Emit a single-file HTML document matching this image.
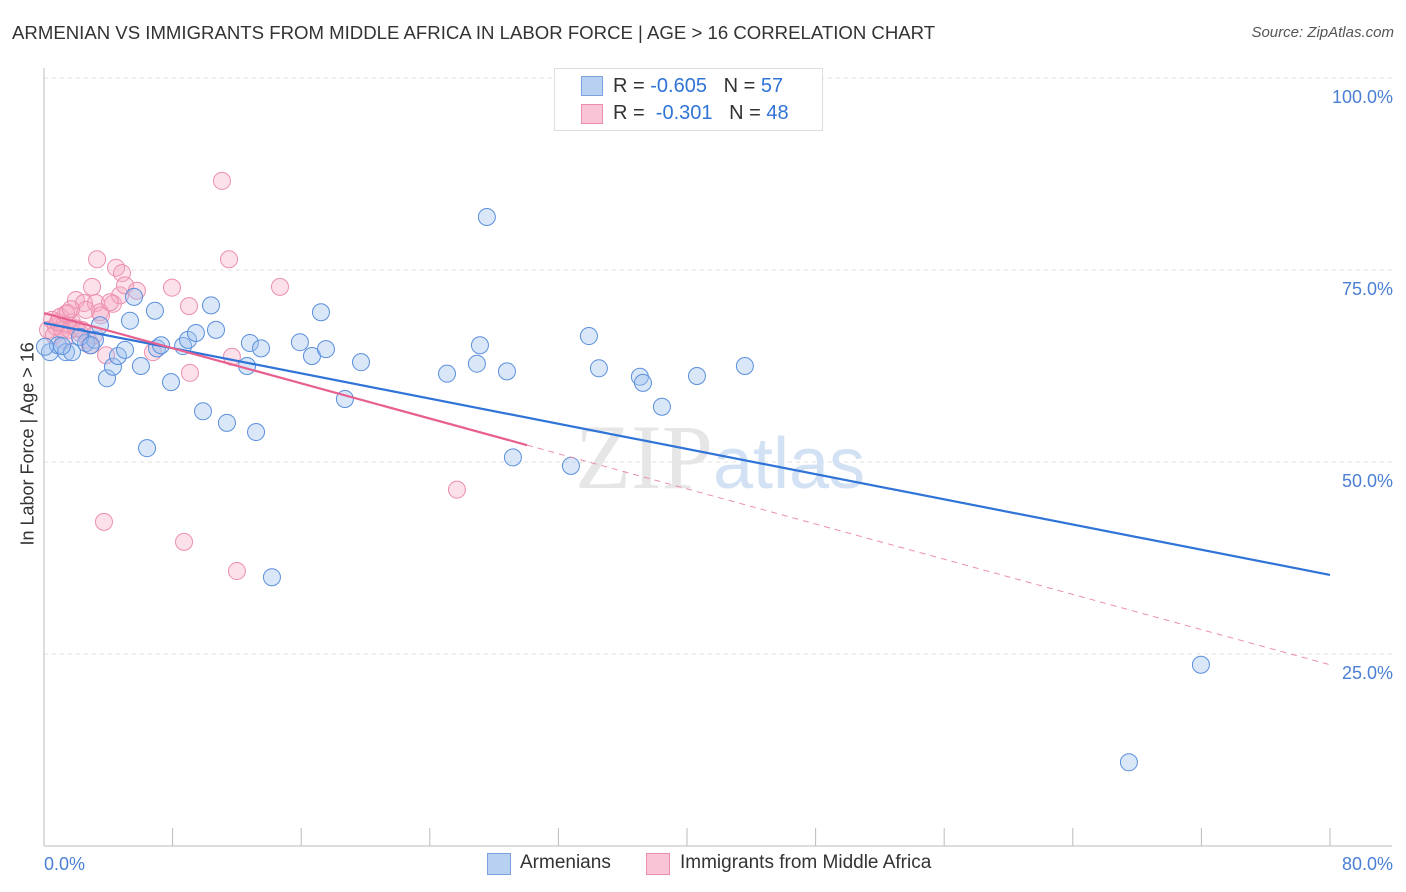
<!DOCTYPE html>
<html><head><meta charset="utf-8"><style>
body{margin:0;background:#fff;font-family:"Liberation Sans",sans-serif;}
#wrap{position:relative;width:1406px;height:892px;overflow:hidden}
.t{position:absolute;white-space:nowrap}
</style></head><body>
<div id="wrap">
<div class="t" style="left:12px;top:22px;font-size:18.6px;color:#333">ARMENIAN VS IMMIGRANTS FROM MIDDLE AFRICA IN LABOR FORCE | AGE &gt; 16 CORRELATION CHART</div>
<div class="t" style="right:12px;top:24px;font-size:15px;color:#555;font-style:italic">Source: ZipAtlas.com</div>
<svg id="svg" width="1406" height="892" style="position:absolute;left:0;top:0"></svg>
</div>
<script>
const xTicksLabels=["0.0%","80.0%"];
const yTickVals=[25,50,75,100];
const blueX=[0.37,0.87,1.37,1.74,2.61,3.17,3.48,3.92,4.29,4.6,5.04,5.35,5.6,6.03,6.41,6.9,7.03,7.28,7.9,8.65,8.96,9.45,9.89,10.39,10.7,11.38,12.63,12.81,13.19,13.5,14.18,15.92,16.67,17.23,17.54,18.72,19.72,25.07,26.93,27.12,27.55,28.8,29.17,32.78,33.9,34.52,37.07,37.26,38.44,40.62,43.6,67.49,71.97,0.06,1.12,2.24,2.92];
const blueY=[64.3,65.2,64.3,64.3,65.5,65.9,67.8,60.9,62.4,63.8,64.6,68.4,71.5,62.5,51.8,69.7,64.8,65.2,60.4,65.1,65.9,66.8,56.6,70.4,67.2,55.1,62.5,65.5,53.9,64.8,35.0,65.6,63.8,69.5,64.7,58.2,63.0,61.5,62.8,65.2,81.9,61.8,50.6,49.5,66.4,62.2,61.1,60.3,57.2,61.2,62.5,10.9,23.6,65.0,65.1,66.3,65.2];
const pinkX=[0.25,0.5,0.75,1.0,1.24,1.49,1.74,1.99,2.24,2.49,2.74,2.99,3.23,3.3,3.55,3.73,3.86,4.29,4.48,4.73,4.85,5.04,5.78,6.78,7.96,8.71,9.02,9.08,11.07,11.51,11.69,12.0,14.68,25.69,0.62,1.12,1.62,0.87,1.37,3.48,2.86,4.1,2.61,1.99,1.24,2.36,3.11,1.68];
const pinkY=[67.2,68.5,67.6,68.9,67.8,69.4,68.2,71.1,66.8,70.7,65.9,72.8,70.7,76.4,69.1,42.2,63.9,70.6,75.3,71.7,74.6,73.0,72.3,64.3,72.7,39.6,70.3,61.6,86.6,76.4,63.7,35.8,72.8,46.4,66.5,67.2,67.2,68.2,69.3,69.5,65.2,70.8,69.8,67.4,65.9,67.2,66.5,69.9];
const blueTrend=[68.1,35.3];
const pinkTrend=[69.4,23.6];
const pinkSolidEnd=30.05;

const X=v=>44+v/80*1286, Y=v=>846-v/100*768;
const svg=document.getElementById('svg'),NS="http://www.w3.org/2000/svg";
function mk(tag,a){const e=document.createElementNS(NS,tag);for(const k in a)e.setAttribute(k,a[k]);svg.appendChild(e);return e;}
yTickVals.forEach(v=>{
 const g=mk('line',{x1:44,x2:1392,y1:Y(v),y2:Y(v),stroke:'#e2e2e2','stroke-dasharray':'4,4'});
 
 
 const t=mk('text',{x:1393,y:Y(v)+25,'text-anchor':'end','font-size':18,fill:'#4a7fd4','font-family':'Liberation Sans'});
 t.textContent=v.toFixed(1)+'%';
 
 
});
const ax=mk('line',{x1:44,x2:44,y1:68,y2:846,stroke:'#bbb'});


const bx=mk('line',{x1:44,x2:1392,y1:846,y2:846,stroke:'#bbb'});


for(let i=0;i<=10;i++){const tk=mk('line',{x1:X(i*8),x2:X(i*8),y1:828,y2:846,stroke:'#bbb'});
 
 }
[[0,'start',44],[1,'end',1393]].forEach(([i,a,x])=>{const t=mk('text',{x:x,y:870,'text-anchor':a,'font-size':18,fill:'#4a7fd4','font-family':'Liberation Sans'});t.textContent=xTicksLabels[i];
 
 });
const wm=mk('text',{x:720,y:488,'text-anchor':'middle','font-size':92,'font-family':'Liberation Serif'});
wm.innerHTML='<tspan fill="#e6e6e6">ZIP</tspan><tspan fill="#d2e1f4" font-family="Liberation Sans" font-size="72">atlas</tspan>';


pinkX.forEach((x,i)=>{const c=mk('circle',{cx:X(x),cy:Y(pinkY[i]),r:8.5,fill:'rgba(246,170,195,0.35)',stroke:'#ec8fae','stroke-width':1});
 
 });
blueX.forEach((x,i)=>{const c=mk('circle',{cx:X(x),cy:Y(blueY[i]),r:8.5,fill:'rgba(160,195,240,0.4)',stroke:'#5b8fdc','stroke-width':1});
 
 });
const bl=mk('line',{x1:X(0),y1:Y(blueTrend[0]),x2:X(80),y2:Y(blueTrend[1]),stroke:'#2f74d6','stroke-width':2.2});


const pAt=x=>pinkTrend[0]+(pinkTrend[1]-pinkTrend[0])*x/80;
const pl=mk('line',{x1:X(0),y1:Y(pinkTrend[0]),x2:X(pinkSolidEnd),y2:Y(pAt(pinkSolidEnd)),stroke:'#e8608f','stroke-width':2.2});


const pd=mk('line',{x1:X(pinkSolidEnd),y1:Y(pAt(pinkSolidEnd)),x2:X(80),y2:Y(pinkTrend[1]),stroke:'#ec8fae','stroke-width':1,'stroke-dasharray':'6,5'});


</script>
<div class="t" style="left:-62px;top:445px;transform:rotate(-90deg);font-size:18px;color:#333;width:180px;text-align:center">In Labor Force | Age &gt; 16</div>
<div style="position:absolute;left:554px;top:68px;width:267px;height:61px;border:1px solid #ddd;background:#fff;font-size:20px;color:#333">
 <div style="position:absolute;left:26px;top:7px;width:20px;height:18px;background:#b8d0f2;border:1px solid #7aa3e0"></div>
 <div class="t" style="left:58px;top:6px">R = <span style="color:#2f74d6">-0.605</span>&nbsp;&nbsp;&nbsp;N = <span style="color:#2f74d6">57</span></div>
 <div style="position:absolute;left:26px;top:35px;width:20px;height:18px;background:#f8c4d6;border:1px solid #ec8fae"></div>
 <div class="t" style="left:58px;top:33px">R = &nbsp;<span style="color:#2f74d6">-0.301</span>&nbsp;&nbsp;&nbsp;N = <span style="color:#2f74d6">48</span></div>
</div>
<div style="position:absolute;left:487px;top:852px;font-size:19px;color:#333;height:26px;width:500px">
 <div style="position:absolute;left:0;top:1px;width:22px;height:20px;background:#b8d0f2;border:1px solid #7aa3e0"></div>
 <div class="t" style="left:33px;top:0">Armenians</div>
 <div style="position:absolute;left:159px;top:1px;width:22px;height:20px;background:#f8c4d6;border:1px solid #ec8fae"></div>
 <div class="t" style="left:193px;top:0">Immigrants from Middle Africa</div>
</div>
</body></html>
